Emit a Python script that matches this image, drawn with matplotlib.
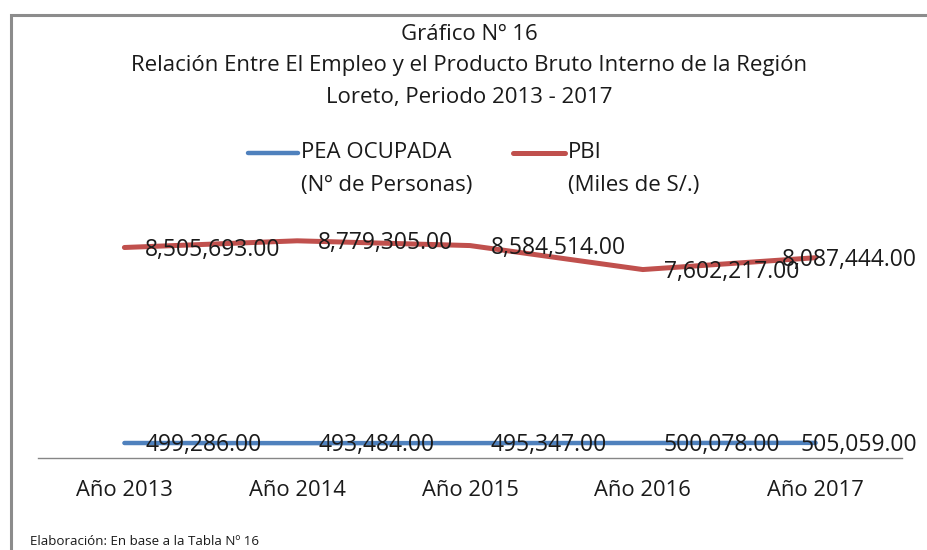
import matplotlib
matplotlib.use("Agg")
import matplotlib.pyplot as plt
from matplotlib.lines import Line2D
from matplotlib.patches import Rectangle

categories = ["Año 2013", "Año 2014", "Año 2015", "Año 2016", "Año 2017"]
pea_ocupada = [499286.00, 493484.00, 495347.00, 500078.00, 505059.00]
pbi = [8505693.00, 8779305.00, 8584514.00, 7602217.00, 8087444.00]
series_labels = ["PEA OCUPADA\n(Nº de Personas)", "PBI\n(Miles de S/.)"]
title_lines = ["Gráfico Nº 16",
               "Relación Entre El Empleo y el Producto Bruto Interno de la Región",
               "Loreto, Periodo 2013 - 2017"]
footnote = "Elaboración: En base a la Tabla Nº 16"

BLUE = "#4F81BD"
RED = "#C0504D"
TXT = "#1a1a1a"
FONT = ["Open Sans", "DejaVu Sans"]
plt.rcParams["font.family"] = FONT

W, H = 928, 550
fig = plt.figure(figsize=(W / 100, H / 100), dpi=100)

def fx(px):
    return px / W

def fy(py):
    return 1 - py / H

# frame
fig.patches.append(Rectangle((fx(11), fy(600)), 1.5, fy(15) - fy(600),
                             transform=fig.transFigure, fill=False,
                             edgecolor="#8C8C8C", linewidth=2.2))

ax_left, ax_right = 38, 902
ax_bottom, ax_top = 458, 211
ax = fig.add_axes([fx(ax_left), fy(ax_bottom), fx(ax_right - ax_left), fy(ax_top) - fy(ax_bottom)])
ax.set_facecolor("none")
x = list(range(len(categories)))
ax.plot(x, pea_ocupada, color=BLUE, linewidth=3.2, solid_capstyle="round", zorder=3)
ax.plot(x, pbi, color=RED, linewidth=3.6, solid_capstyle="round", zorder=3)
ax.set_xlim(-0.5, len(categories) - 0.5)
ax.set_ylim(-115000, 10000000)
for s in ["top", "left", "right"]:
    ax.spines[s].set_visible(False)
ax.spines["bottom"].set_color("#868686")
ax.spines["bottom"].set_linewidth(1.0)
ax.set_yticks([])
ax.set_xticks(x)
ax.set_xticklabels(categories, fontsize=15.8, color=TXT)
ax.tick_params(axis="x", length=0, pad=16)

LBL = 16.5
last = len(categories) - 1
for series in (pea_ocupada, pbi):
    for xi, v in zip(x, series):
        if xi == last:
            ax.annotate(f"{v:,.2f}", (xi, v), xytext=(73, -1.5), textcoords="offset points",
                        ha="right", va="center", fontsize=LBL, color=TXT, zorder=4)
        else:
            ax.annotate(f"{v:,.2f}", (xi, v), xytext=(15, -1.5), textcoords="offset points",
                        ha="left", va="center", fontsize=LBL, color=TXT, zorder=4)

# title
for t, py in zip(title_lines, [35, 66, 97]):
    fig.text(fx(469), fy(py), t, ha="center", va="center", fontsize=16, color=TXT)

# legend (manual)
for (x0, x1, col, lw), lab in zip([(248, 298, BLUE, 3.2), (513, 565, RED, 3.6)], series_labels):
    fig.lines.append(Line2D([fx(x0), fx(x1)], [fy(153), fy(153)], transform=fig.transFigure,
                            color=col, linewidth=lw, solid_capstyle="round"))
    first, second = lab.split("\n")
    fig.text(fx(x1 + 3), fy(153), first, ha="left", va="center", fontsize=16, color=TXT)
    fig.text(fx(x1 + 3), fy(185), second, ha="left", va="center", fontsize=16, color=TXT)

fig.text(fx(30), fy(535), footnote, ha="left", va="top", fontsize=9.6, color=TXT)

fig.savefig("out.png", dpi=100)
